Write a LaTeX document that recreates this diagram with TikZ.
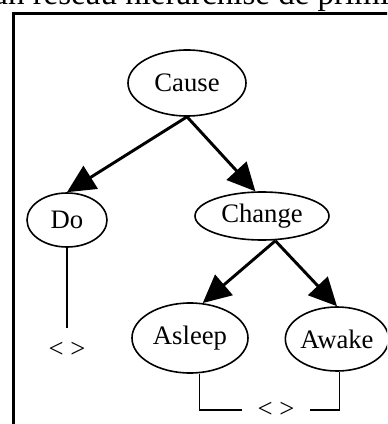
\documentclass[tikz,border=0pt]{standalone}
\usepackage{fontspec}
\setmainfont{Liberation Serif}
\usetikzlibrary{shapes.geometric,arrows.meta}

\tikzset{every picture/.style={line width=0.75pt}}
\tikzset{
	prim/.style={draw, ellipse, line width=1.2pt, inner sep=0pt, font=\fontsize{20}{24}\selectfont},
	nullnode/.style={inner sep=0pt, font=\fontsize{20}{24}\selectfont},
	tree/.style={line width=2.2pt, -{Triangle[length=21pt,width=20pt]}},
	nullline/.style={line width=1.2pt}
}

\begin{document}
\begin{tikzpicture}[x=0.75pt,y=0.75pt,yscale=-1,xscale=1]
	\useasboundingbox (0,0) rectangle (387,424);
	\clip (0,0) rectangle (387,424);

	% Text Node (cut off at the top)
	\node [anchor=base west, inner sep=0pt, font=\fontsize{24.75}{28}\selectfont] (title) at (-9,5) {un réseau hiérarchisé de primitives};
	%Shape: Rectangle (frame)
	\draw [line width=2.25pt] (13.5,14) rectangle (420,460);

	% Ellipse Nodes
	\node [prim, minimum width=88.5pt, minimum height=49.5pt] (cause) at (187,83) {Cause};
	\node [prim, minimum width=60pt, minimum height=40.5pt] (do) at (67,220) {Do};
	\node [prim, minimum width=100.5pt, minimum height=36pt] (change) at (262,216) {Change};
	\node [prim, minimum width=87pt, minimum height=52.5pt] (asleep) at (190,338) {Asleep};
	\node [prim, minimum width=73.5pt, minimum height=48pt] (awake) at (337,339) {Awake};

	% Text Node
	\node [nullnode, minimum height=33pt] (donull) at (67,350) {< >};
	% Text Node
	\node [nullnode, minimum width=50pt] (pairnull) at (276,410) {< >};

	% Connection
	\draw [tree] (cause.south) -- (do.north);
	\draw [tree] (cause.south) -- (change.105);
	\draw [tree] ([xshift=10pt]change.south) -- (asleep.70);
	\draw [tree] ([xshift=10pt]change.south) -- (awake.north);
	% Connection
	\draw [nullline] (do.south) -- (donull.north);
	\draw [nullline] ([xshift=7pt]asleep.south) |- (pairnull.west);
	\draw [nullline] ([xshift=2pt]awake.south) |- (pairnull.east);

\end{tikzpicture}
\end{document}
